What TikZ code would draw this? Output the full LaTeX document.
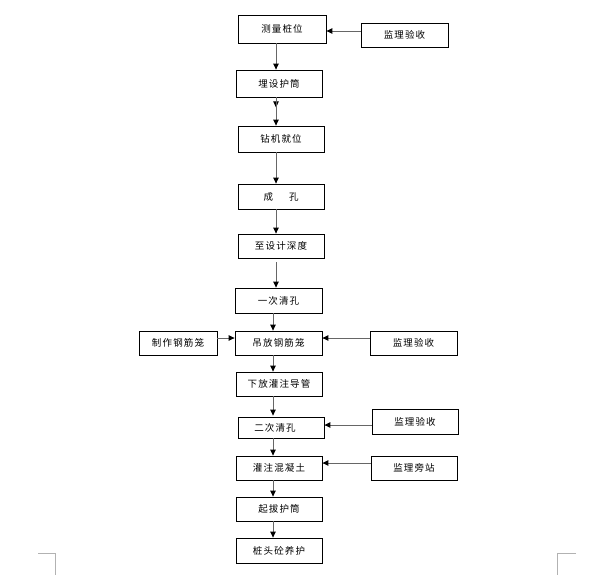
\documentclass[tikz,border=0pt]{standalone}
\usepackage{fontspec}
\usetikzlibrary{arrows.meta,calc}
\newfontfamily\cjk[LetterSpace=12]{Noto Sans CJK SC}
\begin{document}
\begin{tikzpicture}[x=1pt,y=-1pt,
  box/.style={draw=black,line width=0.8pt,rectangle,inner sep=0pt,font=\cjk\fontsize{9.5}{11}\selectfont},
  arr/.style={draw=black!60,line width=0.9pt,-{Triangle[length=6pt,width=5.5pt,fill=black,color=black]}},
  cornermark/.style={draw=black!30,line width=0.8pt}]
\useasboundingbox (0,0) rectangle (601,575);
% nodes
\node[box,minimum width=88pt,minimum height=28pt] (n1) at (282,29) {测量桩位};
\node[box,minimum width=87pt,minimum height=24pt] (s1) at (404.5,35) {监理验收};
\node[box,minimum width=86pt,minimum height=27pt] (n2) at (279,83.5) {埋设护筒};
\node[box,minimum width=86pt,minimum height=26pt] (n3) at (281,139) {钻机就位};
\node[box,minimum width=86pt,minimum height=25pt] (n4) at (281,196.5) {成\hspace{16pt}孔};
\node[box,minimum width=86pt,minimum height=24pt] (n5) at (281,246) {至设计深度};
\node[box,minimum width=87pt,minimum height=25pt] (n6) at (278.5,300.5) {一次清孔};
\node[box,minimum width=87pt,minimum height=24pt] (n7) at (278.5,343) {吊放钢筋笼};
\node[box,minimum width=78pt,minimum height=24pt] (p1) at (178,343) {制作钢筋笼};
\node[box,minimum width=87pt,minimum height=24pt] (s2) at (413.5,343) {监理验收};
\node[box,minimum width=86pt,minimum height=24pt] (n8) at (279,384) {下放灌注导管};
\node[box,minimum width=86pt,minimum height=21pt] (n9) at (281,427.5) {\hspace*{-12pt}二次清孔};
\node[box,minimum width=86pt,minimum height=25pt] (s3) at (415,421.5) {监理验收};
\node[box,minimum width=86pt,minimum height=24pt] (n10) at (279,468) {灌注混凝土};
\node[box,minimum width=86pt,minimum height=24pt] (s4) at (414,468) {监理旁站};
\node[box,minimum width=86pt,minimum height=24pt] (n11) at (279,509) {起拔护筒};
\node[box,minimum width=86pt,minimum height=25pt] (n12) at (279,550.5) {桩头砼养护};
% vertical arrows
\draw[arr] (n1.south -| 276,0) -- (n2.north -| 276,0);
\draw[arr] (n2.south -| 276,0) -- ($(n2.south -| 276,0)+(0,10)$);
\draw[arr] (n2.south -| 276,0) -- (n3.north -| 276,0);
\draw[arr] (n3.south -| 276,0) -- (n4.north -| 276,0);
\draw[arr] (n4.south -| 276,0) -- (n5.north -| 276,0);
\draw[arr,shorten <=4pt] (n5.south -| 276,0) -- (n6.north -| 276,0);
\draw[arr] (n6.south -| 273,0) -- (n7.north -| 273,0);
\draw[arr] (n7.south -| 273,0) -- (n8.north -| 273,0);
\draw[arr,shorten >=1pt] (n8.south -| 273,0) -- (n9.north -| 273,0);
\draw[arr] (n9.south -| 273,0) -- (n10.north -| 273,0);
\draw[arr] (n10.south -| 273,0) -- (n11.north -| 273,0);
\draw[arr] (n11.south -| 273,0) -- (n12.north -| 273,0);
% horizontal arrows
\draw[arr] (s1.west |- 0,31) -- (n1.east |- 0,31);
\draw[arr] (p1.east |- 0,338) -- (n7.west |- 0,338);
\draw[arr] (s2.west |- 0,338) -- (n7.east |- 0,338);
\draw[arr] (s3.west |- 0,425) -- (n9.east |- 0,425);
\draw[arr] (s4.west |- 0,463) -- (n10.east |- 0,463);
% page corner marks
\draw[cornermark] (38,553) -- (55,553) -- (55,575);
\draw[cornermark] (576,553) -- (557,553) -- (557,575);
\end{tikzpicture}
\end{document}
